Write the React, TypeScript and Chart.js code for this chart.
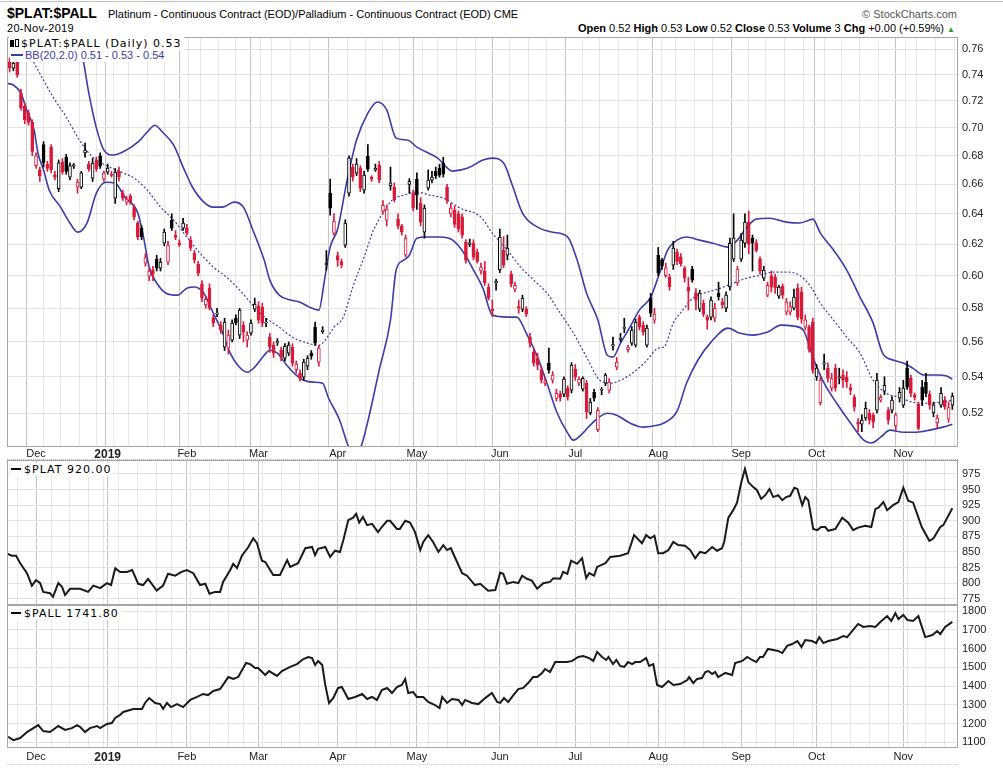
import { useEffect, useRef } from "react";
import Chart from "chart.js/auto";

const RED = "#d81b3c";
const BLACK = "#000000";
const BLUE = "#3c3ca8";
const SANS = '"Liberation Sans", Arial, sans-serif';
const LEGEND_FONT = '"DejaVu Sans", Verdana, sans-serif';

const X_MIN = 0.3;
const X_MAX = 252.5;

// trading-day index of the first session of each month, and its label
const monthTicks = [8, 27, 48, 67, 88, 109, 131, 151, 173, 195, 215, 238];
const monthLabels = ["Dec", "2019", "Feb", "Mar", "Apr", "May", "Jun", "Jul", "Aug", "Sep", "Oct", "Nov"];
// first session of each week
const weekTicks = [
  3, 8, 12, 17, 22, 26, 30, 35, 40, 44, 49, 54, 59, 63, 68, 73, 78, 83, 88, 93, 98, 102, 107, 112, 117, 122,
  127, 131, 136, 141, 146, 151, 155, 160, 165, 170, 175, 180, 185, 190, 195, 199, 204, 209, 214, 219, 224,
  229, 234, 239, 244, 249,
];

const ratioTicks = [0.52, 0.54, 0.56, 0.58, 0.6, 0.62, 0.64, 0.66, 0.68, 0.7, 0.72, 0.74, 0.76];
const platTicks = [775, 800, 825, 850, 875, 900, 925, 950, 975];
const pallTicks = [1100, 1200, 1300, 1400, 1500, 1600, 1700, 1800];

// $PLAT:$PALL daily candles, 20-Nov-2018 .. 20-Nov-2019
const opens = [
  0.754, 0.75, 0.745, 0.751, 0.726, 0.716, 0.711, 0.704, 0.673, 0.67,
  0.688, 0.674, 0.686, 0.6665, 0.657, 0.6755, 0.679, 0.665, 0.6727, 0.658,
  0.658, 0.682, 0.6741, 0.6643, 0.677, 0.68, 0.6636, 0.6685, 0.667, 0.6506,
  0.669, 0.654, 0.6478, 0.652, 0.6445, 0.6339, 0.6305, 0.608, 0.5998, 0.6035,
  0.6105, 0.6048, 0.6207, 0.6086, 0.6358, 0.626, 0.621, 0.6305, 0.6305, 0.6227,
  0.6143, 0.6073, 0.5948, 0.582, 0.5923, 0.5741, 0.5765, 0.5699, 0.557, 0.5564,
  0.561, 0.5741, 0.564, 0.5699, 0.561, 0.5652, 0.5795, 0.5813, 0.5807, 0.5711,
  0.5628, 0.5581, 0.5596, 0.5552, 0.5506, 0.5535, 0.557, 0.544, 0.5421, 0.5398,
  0.546, 0.5535, 0.5687, 0.5483, 0.566, 0.6068, 0.654, 0.6273, 0.6128, 0.609,
  0.6195, 0.654, 0.672, 0.6678, 0.6713, 0.656, 0.6797, 0.665, 0.67, 0.6734,
  0.6418, 0.6358, 0.659, 0.658, 0.6365, 0.632, 0.613, 0.66, 0.654, 0.6636,
  0.6472, 0.6279, 0.6574, 0.6629, 0.669, 0.6713, 0.6748, 0.658, 0.64, 0.6425,
  0.64, 0.638, 0.6214, 0.62, 0.6207, 0.615, 0.603, 0.6029, 0.593, 0.5795,
  0.5955, 0.6036, 0.6163, 0.613, 0.601, 0.5917, 0.581, 0.5795, 0.5795, 0.5628,
  0.554, 0.5506, 0.5438, 0.5365, 0.5478, 0.5381, 0.528, 0.5303, 0.5303, 0.5337,
  0.5326, 0.5443, 0.5364, 0.5331, 0.5365, 0.52, 0.5314, 0.511, 0.5325, 0.5364,
  0.5326, 0.5575, 0.5455, 0.5615, 0.568, 0.5555, 0.5593, 0.5581, 0.5747, 0.5699,
  0.5581, 0.5862, 0.5729, 0.613, 0.61, 0.6, 0.5992, 0.6067, 0.615, 0.6118,
  0.6048, 0.593, 0.6042, 0.5892, 0.5795, 0.5831, 0.5747, 0.5747, 0.5741, 0.5892,
  0.5837, 0.5801, 0.593, 0.6105, 0.5955, 0.6105, 0.6207, 0.6345, 0.624, 0.621,
  0.6105, 0.5985, 0.588, 0.6, 0.599, 0.5873, 0.5935, 0.5777, 0.5777, 0.5801,
  0.5923, 0.59, 0.5687, 0.5687, 0.5717, 0.54, 0.5257, 0.5472, 0.5449, 0.5337,
  0.5449, 0.5395, 0.541, 0.5398, 0.534, 0.5286, 0.515, 0.514, 0.5173, 0.52,
  0.519, 0.5215, 0.527, 0.532, 0.5215, 0.5215, 0.513, 0.5281, 0.5243, 0.5449,
  0.5392, 0.53, 0.5248, 0.5342, 0.537, 0.5303, 0.52, 0.5146, 0.5243, 0.527,
  0.5167, 0.5243,
];
const highs = [
  0.758, 0.753, 0.752, 0.754, 0.729, 0.718, 0.713, 0.706, 0.682, 0.672,
  0.69, 0.676, 0.688, 0.669, 0.677, 0.678, 0.681, 0.675, 0.6745, 0.6636,
  0.669, 0.689, 0.676, 0.678, 0.679, 0.682, 0.669, 0.6741, 0.669, 0.671,
  0.672, 0.656, 0.652, 0.6533, 0.646, 0.635, 0.632, 0.614, 0.605, 0.606,
  0.613, 0.611, 0.63, 0.622, 0.64, 0.629, 0.623, 0.637, 0.633, 0.625,
  0.616, 0.609, 0.597, 0.587, 0.595, 0.576, 0.58, 0.572, 0.574, 0.567,
  0.573, 0.576, 0.58, 0.572, 0.566, 0.573, 0.5862, 0.584, 0.583, 0.574,
  0.565, 0.56, 0.562, 0.557, 0.559, 0.56, 0.559, 0.549, 0.544, 0.55,
  0.552, 0.555, 0.5717, 0.558, 0.569, 0.616, 0.6636, 0.64, 0.615, 0.6105,
  0.636, 0.68, 0.6741, 0.678, 0.673, 0.669, 0.688, 0.666, 0.6741, 0.676,
  0.649, 0.646, 0.672, 0.661, 0.64, 0.633, 0.626, 0.664, 0.656, 0.668,
  0.651, 0.646, 0.67, 0.669, 0.672, 0.674, 0.679, 0.66, 0.647, 0.645,
  0.642, 0.64, 0.623, 0.6234, 0.623, 0.617, 0.608, 0.609, 0.595, 0.585,
  0.5979, 0.63, 0.625, 0.626, 0.603, 0.596, 0.585, 0.588, 0.581, 0.565,
  0.556, 0.5535, 0.546, 0.5392, 0.5564, 0.543, 0.533, 0.532, 0.54, 0.535,
  0.548, 0.547, 0.54, 0.54, 0.538, 0.528, 0.533, 0.523, 0.534, 0.542,
  0.539, 0.5628, 0.551, 0.565, 0.574, 0.558, 0.569, 0.5735, 0.576, 0.572,
  0.57, 0.589, 0.58, 0.618, 0.611, 0.608, 0.601, 0.622, 0.617, 0.614,
  0.606, 0.599, 0.606, 0.592, 0.591, 0.585, 0.576, 0.587, 0.583, 0.596,
  0.586, 0.59, 0.624, 0.64, 0.606, 0.627, 0.64, 0.642, 0.626, 0.623,
  0.612, 0.606, 0.596, 0.603, 0.601, 0.594, 0.595, 0.586, 0.584, 0.5917,
  0.595, 0.593, 0.576, 0.57, 0.574, 0.547, 0.54, 0.553, 0.548, 0.542,
  0.547, 0.5449, 0.544, 0.543, 0.536, 0.53, 0.517, 0.519, 0.526, 0.522,
  0.52, 0.542, 0.53, 0.54, 0.523, 0.529, 0.52, 0.534, 0.538, 0.549,
  0.541, 0.531, 0.526, 0.538, 0.542, 0.532, 0.526, 0.519, 0.534, 0.529,
  0.526, 0.531,
];
const lows = [
  0.748, 0.742, 0.743, 0.738, 0.713, 0.703, 0.702, 0.68, 0.671, 0.662,
  0.672, 0.669, 0.668, 0.663, 0.655, 0.667, 0.667, 0.663, 0.671, 0.654,
  0.657, 0.679, 0.669, 0.662, 0.669, 0.671, 0.662, 0.667, 0.665, 0.647,
  0.6622, 0.649, 0.646, 0.6465, 0.636, 0.623, 0.623, 0.606, 0.597, 0.597,
  0.603, 0.603, 0.619, 0.607, 0.629, 0.623, 0.6185, 0.629, 0.626, 0.616,
  0.608, 0.6, 0.584, 0.58, 0.579, 0.569, 0.575, 0.565, 0.555, 0.553,
  0.56, 0.57, 0.562, 0.56, 0.557, 0.564, 0.578, 0.571, 0.569, 0.569,
  0.554, 0.551, 0.558, 0.549, 0.549, 0.552, 0.546, 0.542, 0.5375, 0.538,
  0.544, 0.55, 0.558, 0.546, 0.565, 0.6036, 0.6392, 0.626, 0.606, 0.605,
  0.618, 0.652, 0.6622, 0.666, 0.655, 0.654, 0.669, 0.662, 0.669, 0.661,
  0.64, 0.632, 0.656, 0.648, 0.63, 0.626, 0.612, 0.654, 0.642, 0.643,
  0.632, 0.624, 0.656, 0.661, 0.664, 0.665, 0.665, 0.647, 0.638, 0.631,
  0.628, 0.624, 0.608, 0.6185, 0.61, 0.608, 0.601, 0.594, 0.585, 0.575,
  0.591, 0.602, 0.605, 0.61, 0.593, 0.59, 0.577, 0.578, 0.575, 0.557,
  0.546, 0.544, 0.5365, 0.535, 0.542, 0.5365, 0.5265, 0.5265, 0.529, 0.527,
  0.531, 0.538, 0.535, 0.532, 0.517, 0.519, 0.5265, 0.51, 0.53, 0.535,
  0.531, 0.5552, 0.544, 0.56, 0.5655, 0.554, 0.558, 0.557, 0.567, 0.564,
  0.557, 0.575, 0.571, 0.6, 0.604, 0.599, 0.591, 0.604, 0.607, 0.606,
  0.596, 0.579, 0.596, 0.579, 0.578, 0.575, 0.5675, 0.573, 0.572, 0.585,
  0.58, 0.578, 0.591, 0.609, 0.594, 0.609, 0.618, 0.614, 0.603, 0.615,
  0.601, 0.597, 0.587, 0.59, 0.589, 0.586, 0.586, 0.576, 0.576, 0.579,
  0.573, 0.571, 0.567, 0.554, 0.542, 0.538, 0.5243, 0.544, 0.537, 0.532,
  0.532, 0.536, 0.534, 0.534, 0.53, 0.521, 0.51, 0.51, 0.516, 0.514,
  0.512, 0.52, 0.526, 0.53, 0.514, 0.52, 0.511, 0.526, 0.523, 0.533,
  0.529, 0.527, 0.511, 0.524, 0.529, 0.522, 0.518, 0.512, 0.523, 0.522,
  0.515, 0.522,
];
const closes = [
  0.75, 0.745, 0.749, 0.74, 0.715, 0.706, 0.704, 0.683, 0.68, 0.666,
  0.675, 0.671, 0.67, 0.665, 0.675, 0.6685, 0.669, 0.673, 0.6735, 0.6615,
  0.668, 0.684, 0.6706, 0.6748, 0.6706, 0.6727, 0.6678, 0.6713, 0.6662, 0.6685,
  0.665, 0.6506, 0.65, 0.6479, 0.6378, 0.6247, 0.625, 0.6115, 0.6029, 0.601,
  0.6048, 0.6086, 0.6279, 0.6195, 0.6305, 0.6245, 0.6197, 0.6339, 0.6272, 0.6175,
  0.6099, 0.6016, 0.5862, 0.5855, 0.5801, 0.5711, 0.5771, 0.5669, 0.5717, 0.564,
  0.5711, 0.5712, 0.5789, 0.5658, 0.564, 0.5711, 0.5825, 0.5729, 0.5711, 0.5717,
  0.557, 0.5535, 0.56, 0.5512, 0.5575, 0.5581, 0.5478, 0.5472, 0.5392, 0.5483,
  0.5506, 0.5518, 0.5593, 0.5564, 0.567, 0.608, 0.6438, 0.6352, 0.6099, 0.607,
  0.6339, 0.6783, 0.665, 0.6741, 0.6574, 0.6664, 0.6706, 0.6636, 0.6712, 0.6629,
  0.6458, 0.6432, 0.661, 0.6493, 0.632, 0.628, 0.624, 0.662, 0.6438, 0.6526,
  0.6345, 0.6438, 0.6629, 0.665, 0.666, 0.6664, 0.667, 0.649, 0.6438, 0.633,
  0.63, 0.626, 0.6099, 0.621, 0.6118, 0.609, 0.6055, 0.5955, 0.5862, 0.5785,
  0.5965, 0.6247, 0.6067, 0.6175, 0.5948, 0.594, 0.58, 0.5862, 0.5765, 0.5593,
  0.5478, 0.5466, 0.5381, 0.5378, 0.5438, 0.541, 0.5308, 0.5285, 0.5387, 0.5286,
  0.5466, 0.5398, 0.5387, 0.5392, 0.5205, 0.5259, 0.5281, 0.5215, 0.533, 0.541,
  0.537, 0.5585, 0.5483, 0.5622, 0.5685, 0.557, 0.5669, 0.5717, 0.5687, 0.5658,
  0.5681, 0.5771, 0.5765, 0.6016, 0.606, 0.605, 0.593, 0.6175, 0.609, 0.6075,
  0.5985, 0.5905, 0.5973, 0.585, 0.5892, 0.5765, 0.5729, 0.585, 0.58, 0.587,
  0.582, 0.588, 0.6207, 0.624, 0.6042, 0.6227, 0.6345, 0.6201, 0.6207, 0.616,
  0.603, 0.6036, 0.594, 0.593, 0.5925, 0.593, 0.588, 0.5837, 0.581, 0.5868,
  0.5747, 0.5735, 0.573, 0.5558, 0.5438, 0.545, 0.5381, 0.548, 0.5392, 0.539,
  0.5337, 0.54, 0.5381, 0.537, 0.5326, 0.5232, 0.514, 0.5162, 0.5226, 0.5162,
  0.515, 0.5381, 0.5286, 0.5353, 0.5162, 0.527, 0.519, 0.5314, 0.5337, 0.5342,
  0.5308, 0.5285, 0.5117, 0.527, 0.5308, 0.5243, 0.5245, 0.5173, 0.5308, 0.5235,
  0.523, 0.5292,
];

// Bollinger Bands (20, 2.0), read at [day, value]
const bbUpper: [number, number][] = [
  [0, 0.8], [6, 0.8], [12, 0.795], [16, 0.785], [19, 0.768], [20.5, 0.7513], [22, 0.7258], [24, 0.7], [26, 0.684], [28.5, 0.6805],
  [31, 0.6826], [35, 0.6897], [37.5, 0.697], [39.5, 0.702], [41.5, 0.697], [44.5, 0.6876], [47, 0.672], [49.5, 0.658], [52.5, 0.6479], [55, 0.6445],
  [57.5, 0.6445], [60.5, 0.6479], [63, 0.6445], [65.5, 0.6293], [68.5, 0.6099], [70, 0.5973], [72.5, 0.588], [75.5, 0.585], [78, 0.5837], [80.5, 0.5807],
  [83, 0.5789], [84.5, 0.5973], [86, 0.6182], [88, 0.63], [90.5, 0.6629], [93, 0.6912], [96, 0.7109], [98.5, 0.7192], [101, 0.7133], [103.5, 0.6926],
  [106.5, 0.6912], [109, 0.6861], [111.5, 0.6826], [114.5, 0.6783], [118.5, 0.6692], [122.5, 0.6713], [126.5, 0.6769], [129, 0.6783], [132, 0.6748], [134.5, 0.658],
  [137, 0.6405], [141, 0.6312], [145, 0.6279], [149, 0.6247], [151.5, 0.6099], [154, 0.5892], [157, 0.5729], [159.5, 0.5523], [161, 0.5512], [163, 0.5593],
  [165.5, 0.5687], [168, 0.5789], [171, 0.5868], [173, 0.5992], [175.5, 0.6163], [178, 0.6227], [180.5, 0.6247], [184, 0.6227], [187.5, 0.6207], [191.5, 0.6182],
  [194, 0.6227], [196.5, 0.6312], [199, 0.6365], [202.5, 0.6371], [207, 0.6345], [210.5, 0.6339], [213, 0.6358], [214, 0.6365], [216, 0.6273], [219.5, 0.6163],
  [223, 0.6036], [226.5, 0.5868], [230, 0.5711], [232.5, 0.5535], [235.5, 0.5494], [238, 0.5478], [240.5, 0.5449], [243.5, 0.541], [247, 0.541], [249.5, 0.5404],
  [251, 0.5387],
];
const bbMiddle: [number, number][] = [
  [0, 0.785], [4, 0.768], [7.5, 0.749], [10, 0.7357], [12.5, 0.7229], [16, 0.708], [19.5, 0.6912], [23, 0.679], [27, 0.6727], [30.5, 0.6685],
  [34, 0.6643], [37.5, 0.656], [41, 0.6445], [44.5, 0.6358], [48, 0.6247], [51.5, 0.6143], [55, 0.6055], [58.5, 0.5992], [62, 0.5911], [65.5, 0.5819],
  [69, 0.5741], [72.5, 0.5687], [76, 0.5628], [80, 0.5593], [83, 0.5581], [86, 0.5652], [87, 0.5687], [89.5, 0.5747], [92, 0.593], [95, 0.6118],
  [97.5, 0.6293], [100, 0.6405], [102.5, 0.6493], [105.5, 0.6526], [109, 0.6547], [112.5, 0.6526], [116, 0.6506], [120.5, 0.6438], [126, 0.6378], [129, 0.6273],
  [133, 0.6163], [136.5, 0.6055], [140, 0.5973], [143.5, 0.5892], [147, 0.5771], [150.5, 0.5652], [154, 0.5512], [157.5, 0.5381], [160.5, 0.5364], [163, 0.5381],
  [166.5, 0.5426], [170, 0.5494], [173, 0.5564], [174.5, 0.557], [177, 0.5711], [179.5, 0.5789], [182.5, 0.5868], [186, 0.5898], [189.5, 0.5923], [193, 0.5955],
  [196.5, 0.5985], [200, 0.6003], [203.5, 0.6023], [207, 0.6023], [210.5, 0.6003], [213.5, 0.593], [216, 0.5831], [219.5, 0.5729], [223, 0.5628], [226.5, 0.5535],
  [230, 0.5381], [233.5, 0.5308], [237, 0.5286], [240.5, 0.5259], [244.5, 0.5254], [248, 0.5259], [251, 0.527],
];
const bbLower: [number, number][] = [
  [0, 0.7333], [2, 0.732], [4, 0.7258], [5.5, 0.7133], [7.5, 0.6984], [8.5, 0.6819], [10, 0.6699], [11.5, 0.656], [14.5, 0.6445], [17, 0.6339],
  [19, 0.6279], [21.5, 0.6339], [24, 0.654], [26.5, 0.6615], [29, 0.6609], [31.5, 0.6513], [35, 0.6405], [36.5, 0.6247], [38, 0.6055], [40, 0.5955],
  [42.5, 0.5892], [45.5, 0.588], [48, 0.5923], [50, 0.593], [52.5, 0.5892], [55, 0.5771], [57.5, 0.5652], [59.5, 0.5535], [61.5, 0.5466], [64, 0.5426],
  [66, 0.5455], [68.5, 0.5523], [70, 0.5552], [72, 0.5535], [74.5, 0.5466], [77, 0.541], [79, 0.5381], [81.5, 0.537], [84, 0.5364], [85.5, 0.5285],
  [88.5, 0.5162], [90.5, 0.504], [92.5, 0.495], [94.5, 0.504], [96.5, 0.5199], [99, 0.5438], [102, 0.5729], [103.5, 0.6036], [105.5, 0.6099], [107, 0.613],
  [109, 0.624], [111.5, 0.6247], [115, 0.6247], [118.5, 0.6227], [121.5, 0.6143], [124, 0.6036], [126.5, 0.5923], [129, 0.5759], [133, 0.5747], [135.5, 0.5747],
  [138, 0.5652], [141, 0.5512], [143.5, 0.5364], [146, 0.521], [149, 0.5092], [150.5, 0.5055], [153, 0.5092], [155.5, 0.5146], [159.5, 0.5199], [162, 0.5188],
  [165.5, 0.5146], [169, 0.5124], [173, 0.5135], [174.5, 0.5146], [178, 0.521], [180.5, 0.5364], [183.5, 0.5494], [187, 0.5599], [191.5, 0.5681], [194.5, 0.5652],
  [198, 0.564], [202, 0.5658], [205.5, 0.5699], [209, 0.5693], [211.5, 0.5669], [214, 0.5512], [217, 0.5364], [220.5, 0.5248], [224, 0.5146], [227.5, 0.5055],
  [229.5, 0.504], [232, 0.5071], [234.5, 0.5108], [238, 0.5097], [241.5, 0.5097], [245, 0.5108], [248.5, 0.5124], [251, 0.514],
];

// $PLAT close, read at [day, value]
const platSeries: [number, number][] = [
  [0, 848], [1.6, 844], [2.7, 844], [3.8, 832], [5.6, 816], [6.9, 796], [8, 805], [9.1, 800], [9.9, 786], [11.7, 784],
  [12.5, 778], [13.9, 800], [14.9, 794], [15.7, 781], [17, 791], [19.7, 791], [21.8, 786], [23.2, 796], [25, 792], [26.8, 800],
  [27.9, 797], [29, 824], [30.3, 818], [32.1, 818], [33.5, 821], [35.1, 799], [36.4, 797], [37.7, 807], [40, 788], [41.7, 796],
  [43, 815], [44.9, 812], [46.6, 818], [48, 821], [49.7, 816], [51.5, 797], [52.9, 799], [54, 783], [55.5, 786], [56.8, 786],
  [57.6, 802], [59.5, 821], [60.3, 831], [61.3, 824], [62.6, 844], [64.3, 858], [65.6, 872], [66.6, 864], [67.9, 836], [68.8, 834],
  [70.9, 813], [72.7, 813], [74.6, 837], [75.4, 826], [77.5, 832], [79.4, 856], [81.2, 858], [82, 845], [82.8, 855], [84.7, 858],
  [86, 842], [87.3, 852], [88.6, 850], [89.5, 869], [90.8, 901], [92.1, 905], [92.9, 911], [93.7, 897], [94.7, 906], [95.8, 893],
  [97.1, 895], [98.7, 882], [99.7, 890], [101.1, 900], [101.9, 900], [103.7, 887], [104.5, 887], [105.9, 900], [107.2, 897], [108.5, 882],
  [109.9, 853], [110.7, 866], [112, 877], [113.3, 866], [114.7, 850], [116, 861], [117, 853], [118, 856], [121, 816], [122.3, 812],
  [124.4, 797], [125.8, 799], [127.9, 788], [129.8, 789], [131.1, 817], [131.9, 815], [132.9, 799], [134.6, 802], [135.9, 800], [136.9, 812],
  [138.2, 807], [139.5, 804], [140.9, 791], [142.5, 800], [144.3, 802], [145.2, 808], [147, 807], [147.8, 818], [148.9, 815], [149.9, 836],
  [151.5, 831], [152.8, 840], [153.9, 808], [154.7, 816], [156, 812], [156.8, 826], [159, 832], [160.3, 842], [162.9, 844], [165, 848],
  [166.6, 877], [168.7, 864], [169.8, 877], [170.9, 872], [172, 876], [173, 848], [174.3, 848], [175.7, 853], [177, 866], [178.3, 861],
  [180.1, 860], [181.5, 853], [182.8, 840], [184.1, 850], [185.5, 848], [187.3, 858], [188.6, 852], [189.9, 856], [190.5, 866], [191.6, 905],
  [192.9, 917], [193.9, 929], [195, 961], [196, 983], [196.9, 962], [198.2, 954], [199.2, 949], [200.3, 935], [201.4, 941], [202.5, 951],
  [203.5, 938], [204.8, 941], [205.9, 933], [206.9, 938], [208, 940], [209.1, 953], [209.9, 951], [211.2, 925], [212, 938], [212.8, 933],
  [214.1, 887], [215.2, 885], [216.2, 890], [217.3, 890], [218.1, 884], [220, 887], [221.8, 905], [223.4, 897], [224.7, 885], [226, 889],
  [227.9, 892], [229.5, 890], [230.6, 919], [231.4, 921], [232.7, 930], [233.7, 917], [235.3, 925], [236.7, 930], [238, 953], [239.3, 932],
  [240.6, 929], [242.9, 890], [244.9, 868], [246, 872], [247.8, 890], [248.6, 893], [251, 920],
];

// $PALL close, read at [day, value]
const pallSeries: [number, number][] = [
  [0.6, 1130], [2, 1112], [3.8, 1123], [5.6, 1155], [7.3, 1176], [8.6, 1192], [9.9, 1160], [11.7, 1155], [13.9, 1187], [15.7, 1166],
  [17.5, 1176], [18.9, 1192], [19.7, 1182], [21, 1155], [22.3, 1176], [24.2, 1187], [25, 1176], [26.8, 1198], [28.1, 1203], [29, 1230],
  [30.3, 1246], [31.1, 1262], [33.8, 1278], [36.1, 1278], [36.9, 1310], [38, 1336], [39.6, 1310], [40.9, 1304], [41.7, 1278], [42.7, 1310],
  [43.8, 1288], [45.4, 1304], [47, 1288], [48.9, 1326], [50.7, 1342], [52.3, 1358], [53.6, 1352], [55, 1374], [56.8, 1384], [59, 1448],
  [60.3, 1438], [61.6, 1448], [63.7, 1523], [64.8, 1517], [66.1, 1496], [66.9, 1496], [68.8, 1459], [69.8, 1480], [71.9, 1454], [73.2, 1480],
  [75.4, 1502], [77.2, 1517], [78.9, 1544], [80.2, 1555], [81.2, 1549], [82, 1512], [82.8, 1534], [83.9, 1512], [84.7, 1406], [85.7, 1310],
  [86.8, 1336], [88.1, 1390], [89.1, 1395], [90.8, 1331], [92.6, 1342], [94.5, 1358], [95.8, 1331], [97.1, 1342], [98.4, 1326], [99.7, 1379],
  [101.1, 1390], [102.4, 1363], [103.7, 1395], [105, 1406], [105.9, 1438], [106.7, 1363], [108, 1368], [109, 1342], [110.7, 1342], [112, 1315],
  [113.8, 1299], [115, 1283], [115.7, 1342], [117, 1310], [118.3, 1331], [120, 1326], [121, 1299], [121.8, 1326], [123.6, 1310], [125.3, 1304],
  [127.1, 1336], [128.9, 1363], [130.3, 1315], [131.1, 1310], [132.1, 1336], [133.2, 1315], [134.6, 1352], [135.9, 1384], [137.2, 1390], [138.5, 1416],
  [139.8, 1448], [140.9, 1448], [142.2, 1470], [143, 1491], [144.3, 1475], [145.7, 1528], [147.5, 1528], [148.8, 1528], [150.2, 1534], [151.8, 1555],
  [153.1, 1560], [154.7, 1549], [155.8, 1534], [156.8, 1582], [158.1, 1555], [159.2, 1539], [159.8, 1555], [161, 1517], [161.9, 1539], [162.9, 1507],
  [164, 1502], [165, 1528], [166.1, 1517], [166.9, 1528], [168.2, 1528], [169.8, 1549], [170.6, 1507], [171.7, 1517], [172.7, 1406], [174, 1395],
  [175.7, 1427], [177, 1406], [178.8, 1411], [180.7, 1432], [181.2, 1448], [182.3, 1416], [183.3, 1438], [184.6, 1443], [185.5, 1475], [186.3, 1480],
  [187.3, 1464], [188.1, 1475], [188.9, 1448], [190.8, 1470], [192.6, 1459], [193.4, 1523], [195.3, 1534], [196.6, 1555], [197.9, 1539], [199, 1528],
  [200, 1555], [200.8, 1555], [202.1, 1598], [203.5, 1592], [204.8, 1587], [205.9, 1576], [207.2, 1614], [208.5, 1624], [209.9, 1640], [211, 1608],
  [212, 1645], [213.8, 1640], [214.9, 1629], [215.7, 1661], [216.8, 1629], [218.1, 1640], [220.5, 1651], [222.1, 1667], [223.1, 1661], [224.7, 1699],
  [226, 1731], [227.4, 1715], [229.2, 1720], [230.6, 1715], [231.9, 1741], [233.7, 1773], [234.8, 1747], [235.9, 1789], [236.7, 1757], [238, 1779],
  [239.1, 1752], [240.6, 1747], [242, 1773], [243.8, 1661], [245.7, 1672], [247, 1693], [247.8, 1677], [249.1, 1715], [251, 1742],
];

const gridTicks = Array.from(new Set([...weekTicks, ...monthTicks])).sort((a, b) => a - b);

const framePlugin = {
  id: "frame",
  afterDraw(chart: any) {
    const { ctx, chartArea: a } = chart;
    ctx.save();
    ctx.strokeStyle = "#a6a6a6";
    ctx.lineWidth = 1;
    ctx.strokeRect(a.left + 0.5, a.top + 0.5, a.right - a.left - 1, a.bottom - a.top - 1);
    ctx.restore();
  },
};

function xAxis(showLabels: boolean, height: number, pad: number) {
  return {
    type: "linear",
    min: X_MIN,
    max: X_MAX,
    offset: false,
    afterBuildTicks: (s: any) => {
      s.ticks = gridTicks.map((v) => ({ value: v }));
    },
    afterFit: (s: any) => {
      s.height = height;
      s.paddingLeft = 0;
      s.paddingRight = 0;
    },
    grid: {
      drawTicks: false,
      color: (c: any) => (c.tick && monthTicks.includes(c.tick.value) ? "#c6c6c6" : "#e8e8e8"),
    },
    border: { display: false },
    ticks: {
      display: showLabels,
      autoSkip: false,
      maxRotation: 0,
      padding: pad,
      color: "#222",
      callback: (v: number | string) => {
        const k = monthTicks.indexOf(Number(v));
        return k >= 0 ? monthLabels[k] : "";
      },
      font: (c: any) =>
        c.tick && c.tick.value === 27
          ? { size: 12, weight: "bold", family: SANS }
          : { size: 11, weight: "normal", family: SANS },
    },
  };
}

function yAxis(type: string, min: number, max: number, ticks: number[], fmt: (v: number) => string) {
  return {
    type,
    position: "right",
    min,
    max,
    afterBuildTicks: (s: any) => {
      s.ticks = ticks.map((v) => ({ value: v }));
    },
    afterFit: (s: any) => {
      s.width = 45;
      s.paddingTop = 0;
      s.paddingBottom = 0;
    },
    grid: { drawTicks: false, color: "#e4e4e4" },
    border: { display: false },
    ticks: {
      autoSkip: false,
      padding: 4,
      color: "#222",
      font: { size: 11, family: SANS },
      callback: (v: number | string) => fmt(Number(v)),
    },
  };
}

const common = {
  responsive: true,
  maintainAspectRatio: false,
  animation: false,
  events: [],
  layout: { padding: { left: 7, right: 0, top: 0, bottom: 0 } },
  plugins: { legend: { display: false }, tooltip: { enabled: false } },
};

export default function App() {
  const mainRef = useRef<HTMLCanvasElement | null>(null);
  const platRef = useRef<HTMLCanvasElement | null>(null);
  const pallRef = useRef<HTMLCanvasElement | null>(null);

  useEffect(() => {
    if (!mainRef.current || !platRef.current || !pallRef.current) return;
    Chart.defaults.font.family = SANS;
    Chart.defaults.font.size = 11;

    const colors = closes.map((c, i) => (i > 0 && c < closes[i - 1] ? RED : BLACK));
    const fills = closes.map((c, i) => (c > opens[i] ? "#ffffff" : colors[i]));
    const wicks = closes.map((c, i) => ({
      x: i,
      y: [Math.min(lows[i], opens[i], c), Math.max(highs[i], opens[i], c)],
    }));
    const bodies = closes.map((c, i) => ({ x: i, y: [opens[i], c] }));
    const band = (pts: [number, number][]) => pts.map(([x, y]) => ({ x, y }));
    const lineStyle = { pointRadius: 0, tension: 0.4, cubicInterpolationMode: "monotone", fill: false };

    const charts: Chart[] = [];

    charts.push(
      new Chart(mainRef.current, {
        type: "bar",
        data: {
          datasets: [
            {
              type: "bar",
              data: bodies,
              backgroundColor: fills,
              borderColor: colors,
              borderWidth: 1,
              borderSkipped: false,
              barThickness: 3,
              minBarLength: 1,
              grouped: false,
              order: 0,
            },
            {
              type: "bar",
              data: wicks,
              backgroundColor: colors,
              borderWidth: 0,
              barThickness: 1,
              grouped: false,
              order: 1,
            },
            { type: "line", data: band(bbUpper), borderColor: BLUE, borderWidth: 1.6, order: 2, ...lineStyle },
            { type: "line", data: band(bbMiddle), borderColor: BLUE, borderWidth: 1.2, borderDash: [2, 2], order: 2, ...lineStyle },
            { type: "line", data: band(bbLower), borderColor: BLUE, borderWidth: 1.6, order: 2, ...lineStyle },
          ],
        },
        options: {
          ...common,
          scales: {
            x: xAxis(true, 13, 0),
            y: yAxis("logarithmic", 0.5019, 0.7696, ratioTicks, (v) => v.toFixed(2)),
          },
        } as any,
        plugins: [framePlugin],
      } as any)
    );

    charts.push(
      new Chart(platRef.current, {
        type: "line",
        data: {
          datasets: [
            {
              data: band(platSeries),
              borderColor: "#1a1a1a",
              borderWidth: 2,
              pointRadius: 0,
              tension: 0,
            },
          ],
        },
        options: {
          ...common,
          scales: {
            x: xAxis(false, 0, 0),
            y: yAxis("linear", 765, 997.4, platTicks, (v) => String(v)),
          },
        } as any,
        plugins: [framePlugin],
      } as any)
    );

    charts.push(
      new Chart(pallRef.current, {
        type: "line",
        data: {
          datasets: [
            {
              data: band(pallSeries),
              borderColor: "#1a1a1a",
              borderWidth: 2,
              pointRadius: 0,
              tension: 0,
            },
          ],
        },
        options: {
          ...common,
          scales: {
            x: xAxis(true, 21, 2),
            y: yAxis("linear", 1070, 1832, pallTicks, (v) => String(v)),
          },
        } as any,
        plugins: [framePlugin],
      } as any)
    );

    return () => {
      charts.forEach((c) => c.destroy());
    };
  }, []);

  const abs = (left: number | undefined, top: number, extra: any = {}) => ({
    position: "absolute" as const,
    left,
    top,
    whiteSpace: "nowrap" as const,
    lineHeight: 1,
    ...extra,
  });
  const legend = {
    fontSize: 11,
    fontFamily: LEGEND_FONT,
    letterSpacing: 1,
    background: "#ffffff",
    padding: "1px 2px 1px 1px",
  };

  return (
    <div
      style={{
        position: "absolute",
        left: 0,
        top: 0,
        width: 1003,
        height: 769,
        background: "#ffffff",
        overflow: "hidden",
        fontFamily: SANS,
        color: "#000",
      }}
    >
      <div style={{ position: "absolute", left: 0, top: 37, width: 1003, height: 423 }}>
        <canvas ref={mainRef} />
      </div>
      <div style={{ position: "absolute", left: 0, top: 460, width: 1003, height: 145 }}>
        <canvas ref={platRef} />
      </div>
      <div style={{ position: "absolute", left: 0, top: 605, width: 1003, height: 164 }}>
        <canvas ref={pallRef} />
      </div>

      <div style={{ position: "absolute", left: 0, top: 1, width: 1003, height: 1, background: "#c0c0c0" }} />
      <div style={{ position: "absolute", left: 7, top: 459, width: 951, height: 0, borderTop: "1px dotted #b0b0b0" }} />
      <div style={{ position: "absolute", left: 7, top: 764, width: 951, height: 0, borderTop: "1px dotted #d0d0d0" }} />

      <div style={abs(7, 6, { fontSize: 14, fontWeight: "bold" })}>$PLAT:$PALL</div>
      <div style={abs(108, 9, { fontSize: 11 })}>
        Platinum - Continuous Contract (EOD)/Palladium - Continuous Contract (EOD) CME
      </div>
      <div style={abs(undefined, 9, { fontSize: 11, color: "#555", right: 46 })}>© StockCharts.com</div>
      <div style={abs(7, 23, { fontSize: 11, letterSpacing: 0.3 })}>20-Nov-2019</div>
      <div style={abs(undefined, 23, { fontSize: 11, right: 48 })}>
        <b>Open</b> 0.52 <b>High</b> 0.53 <b>Low</b> 0.52 <b>Close</b> 0.53 <b>Volume</b> 3 <b>Chg</b> +0.00 (+0.59%){" "}
        <span style={{ color: "#2a9a2a", fontSize: 8 }}>▲</span>
      </div>

      <div style={abs(9, 37, legend)}>
        <svg width="9" height="9" style={{ marginRight: 2, verticalAlign: "-1px" }}>
          <rect x="0.5" y="1.5" width="3" height="6" fill="#000" stroke="#000" />
          <rect x="5.5" y="0.5" width="3" height="7" fill="#fff" stroke="#000" />
        </svg>
        $PLAT:$PALL (Daily) 0.53
      </div>
      <div style={abs(10, 49, { ...legend, fontFamily: SANS, letterSpacing: 0, color: BLUE })}>
        <span style={{ display: "inline-block", width: 12, height: 2, background: BLUE, verticalAlign: "3px", marginRight: 2 }} />
        BB(20,2.0) 0.51 - 0.53 - 0.54
      </div>
      <div style={abs(10, 463, legend)}>
        <span style={{ display: "inline-block", width: 10, height: 2, background: "#000", verticalAlign: "3px", marginRight: 3 }} />
        $PLAT 920.00
      </div>
      <div style={abs(10, 607, legend)}>
        <span style={{ display: "inline-block", width: 10, height: 2, background: "#000", verticalAlign: "3px", marginRight: 3 }} />
        $PALL 1741.80
      </div>
    </div>
  );
}
